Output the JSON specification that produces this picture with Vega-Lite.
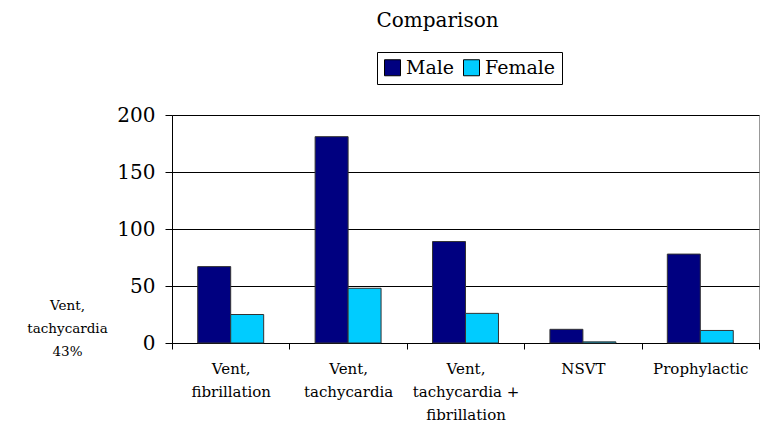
{
  "$schema": "https://vega.github.io/schema/vega-lite/v6.json",
  "width": 587,
  "height": 228,
  "autosize": {"type": "none"},
  "padding": {"left": 172, "top": 115, "right": 11, "bottom": 89},
  "background": "white",
  "title": {
    "text": "Comparison",
    "font": "DejaVu Serif",
    "fontSize": 20,
    "fontWeight": "normal",
    "color": "black",
    "anchor": "middle",
    "dx": -28,
    "offset": 21
  },
  "data": {
    "values": [
      {"category": "Vent, fibrillation", "sex": "Male", "count": 67},
      {"category": "Vent, fibrillation", "sex": "Female", "count": 25},
      {"category": "Vent, tachycardia", "sex": "Male", "count": 181},
      {"category": "Vent, tachycardia", "sex": "Female", "count": 48},
      {"category": "Vent, tachycardia + fibrillation", "sex": "Male", "count": 89},
      {"category": "Vent, tachycardia + fibrillation", "sex": "Female", "count": 26},
      {"category": "NSVT", "sex": "Male", "count": 12},
      {"category": "NSVT", "sex": "Female", "count": 1},
      {"category": "Prophylactic", "sex": "Male", "count": 78},
      {"category": "Prophylactic", "sex": "Female", "count": 11}
    ]
  },
  "mark": {"type": "bar", "stroke": "#333333", "strokeWidth": 1},
  "encoding": {
    "x": {
      "field": "category",
      "type": "nominal",
      "sort": null,
      "scale": {"paddingInner": 0, "paddingOuter": 0},
      "axis": {
        "title": null,
        "labelAngle": 0,
        "labelFont": "DejaVu Serif",
        "labelFontSize": 15,
        "labelColor": "black",
        "labelLineHeight": 23,
        "labelBaseline": "top",
        "labelPadding": 12,
        "labelExpr": "isValid(datum.value) ? split(replace(replace(datum.value, ', ', ',|'), ' + ', ' +|'), '|') : ''",
        "tickBand": "extent",
        "ticks": true,
        "tickSize": 6,
        "tickColor": "black",
        "domainColor": "black",
        "grid": false
      }
    },
    "xOffset": {
      "field": "sex",
      "type": "nominal",
      "sort": ["Male", "Female"],
      "scale": {"paddingInner": 0, "paddingOuter": 0.78}
    },
    "y": {
      "field": "count",
      "type": "quantitative",
      "scale": {"domain": [0, 200]},
      "axis": {
        "values": [0, 50, 100, 150, 200],
        "title": ["Vent,", "tachycardia", "43%"],
        "titleAngle": 0,
        "titleFont": "DejaVu Serif",
        "titleFontSize": 13.5,
        "titleFontWeight": "normal",
        "titleColor": "black",
        "titleAlign": "center",
        "titleBaseline": "alphabetic",
        "titleLineHeight": 23,
        "titleX": -105,
        "titleY": 194,
        "labelFont": "DejaVu Serif",
        "labelFontSize": 20,
        "labelColor": "black",
        "labelPadding": 10,
        "tickSize": 7,
        "tickColor": "black",
        "domainColor": "black",
        "gridColor": "black",
        "gridOpacity": 1
      }
    },
    "color": {
      "field": "sex",
      "type": "nominal",
      "sort": ["Male", "Female"],
      "scale": {"domain": ["Male", "Female"], "range": ["#000080", "#00CCFF"]},
      "legend": {
        "title": null,
        "orient": "none",
        "legendX": 205,
        "legendY": -63,
        "direction": "horizontal",
        "strokeColor": "black",
        "padding": 6,
        "symbolType": "square",
        "symbolSize": 256,
        "symbolStrokeColor": "black",
        "symbolStrokeWidth": 1,
        "symbolOpacity": 1,
        "labelFont": "DejaVu Serif",
        "labelFontSize": 19,
        "labelColor": "black",
        "labelOffset": 4,
        "columnPadding": 6
      }
    }
  },
  "config": {
    "font": "DejaVu Serif",
    "view": {"stroke": "#999999"}
  }
}
